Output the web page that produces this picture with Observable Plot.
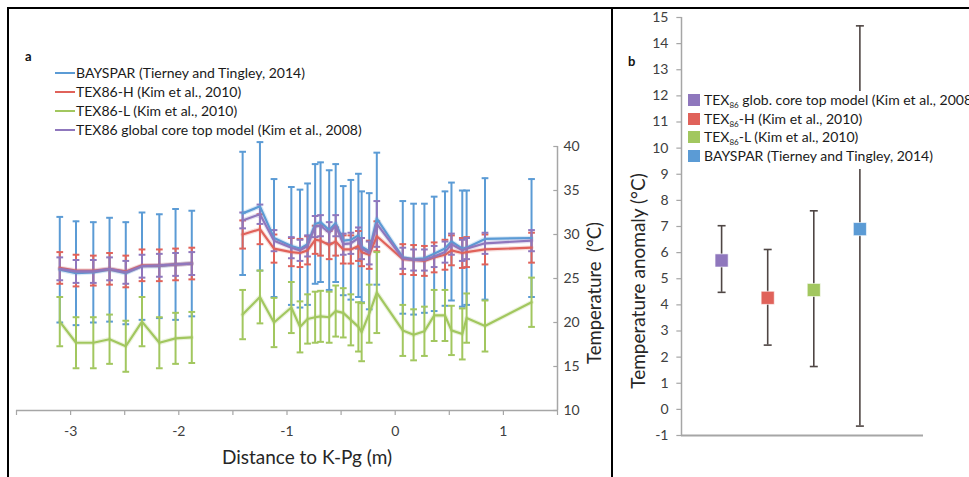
<!DOCTYPE html>
<html>
<head>
<meta charset="utf-8">
<script src="https://cdn.jsdelivr.net/npm/d3@7"></script>
<script src="https://cdn.jsdelivr.net/npm/@observablehq/plot@0.6"></script>
<style>
  html, body { margin: 0; padding: 0; background: #fff; }
  #wrap { position: relative; width: 969px; height: 477px; overflow: hidden; background: #fff; font-family: Lato, "Open Sans", sans-serif; color: #1a1a1a; }
  .abs { position: absolute; white-space: nowrap; }
  .leg { font-size: 14px; line-height: 19px; }
  .sw { display: inline-block; width: 20px; height: 2px; vertical-align: middle; margin-right: 1px; position: relative; top: -1px; }
  .sq { display: inline-block; width: 12px; height: 12px; vertical-align: middle; margin-right: 4px; position: relative; top: -1px; }
  sub { font-size: 8px; vertical-align: -3px; line-height: 0; }
</style>
</head>
<body>
<div id="wrap">
  <div id="pa" class="abs" style="left:0;top:0"></div>
  <div id="pb" class="abs" style="left:612px;top:0"></div>
</div>
<script>
// ---------- Panel a data ----------
const distance = [-3.10, -2.95, -2.79, -2.64, -2.49, -2.34, -2.18, -2.03, -1.88,
  -1.41, -1.25, -1.12, -0.96, -0.88, -0.81, -0.74, -0.69, -0.61, -0.55, -0.48, -0.41, -0.34, -0.31, -0.24, -0.17,
  0.07, 0.17, 0.27, 0.36, 0.46, 0.52, 0.62, 0.66, 0.83, 1.26];
const segment = ["lower","lower","lower","lower","lower","lower","lower","lower","lower",
  "upper","upper","upper","upper","upper","upper","upper","upper","upper","upper","upper","upper","upper","upper","upper","upper",
  "upper","upper","upper","upper","upper","upper","upper","upper","upper","upper"];
const bayspar = [26.0, 25.6, 25.7, 26.0, 25.6, 26.4, 26.4, 26.6, 26.7,
  32.4, 33.2, 29.6, 28.7, 28.4, 28.9, 31.2, 31.4, 30.5, 31.3, 29.3, 29.4, 29.9, 28.6, 28.1, 31.8,
  27.4, 27.2, 27.3, 27.8, 28.4, 29.2, 28.4, 28.5, 29.5, 29.6];
const baysparErr = [6.0, 5.9, 5.7, 5.9, 5.8, 6.1, 5.9, 6.3, 6.0,
  7.0, 7.3, 6.7, 6.7, 6.7, 6.9, 6.8, 6.8, 6.8, 6.7, 6.2, 6.8, 7.0, 6.3, 6.6, 7.5,
  6.4, 6.3, 6.2, 6.5, 6.5, 6.7, 6.6, 6.5, 6.9, 6.7];
const tex86H = [26.2, 25.9, 25.9, 26.1, 25.8, 26.5, 26.5, 26.6, 26.7,
  30.0, 30.6, 28.4, 28.0, 27.9, 28.2, 29.4, 29.3, 28.8, 29.2, 28.3, 28.3, 28.7, 28.0, 27.7, 29.8,
  27.2, 27.1, 27.0, 27.4, 27.7, 28.2, 27.9, 28.0, 28.3, 28.5];
const tex86HErr = [1.8, 1.8, 1.7, 1.8, 1.8, 1.8, 1.8, 1.8, 1.8,
  1.6, 1.7, 1.6, 1.6, 1.6, 1.6, 1.6, 1.7, 1.6, 1.6, 1.6, 1.6, 1.7, 1.6, 1.6, 1.7,
  1.7, 1.7, 1.7, 1.7, 1.7, 1.7, 1.7, 1.7, 1.7, 1.7];
const tex86L = [20.1, 17.7, 17.7, 18.1, 17.3, 20.1, 17.7, 18.2, 18.3,
  20.9, 22.9, 20.0, 21.7, 19.5, 20.4, 20.6, 20.7, 20.6, 21.3, 21.1, 20.3, 19.5, 18.9, 21.0, 23.4,
  19.1, 18.6, 19.0, 20.8, 20.8, 19.1, 18.7, 20.5, 19.6, 22.3];
const tex86LErr = [2.8, 2.9, 2.9, 2.8, 2.9, 2.8, 2.9, 2.9, 2.9,
  2.8, 3.0, 2.8, 2.9, 2.9, 2.8, 2.9, 2.9, 2.9, 2.9, 2.8, 2.9, 2.8, 3.3, 3.3, 4.6,
  2.9, 2.9, 2.8, 2.9, 2.9, 2.8, 2.9, 2.8, 2.9, 2.8];
const tex86Glob = [26.1, 25.8, 25.8, 26.1, 25.7, 26.4, 26.5, 26.6, 26.7,
  31.6, 32.3, 29.3, 28.5, 28.2, 28.7, 30.9, 31.0, 30.2, 31.0, 28.9, 29.0, 29.6, 28.4, 27.9, 31.2,
  27.3, 27.1, 27.1, 27.5, 28.0, 28.9, 28.2, 28.4, 29.0, 29.3];
const tex86GlobErr = [1.3, 1.3, 1.3, 1.3, 1.3, 1.3, 1.3, 1.3, 1.3,
  0.9, 1.1, 1.2, 1.2, 1.2, 1.2, 1.2, 1.2, 1.2, 1.2, 1.2, 1.2, 1.2, 1.2, 1.3, 2.6,
  1.2, 1.2, 1.2, 1.2, 1.2, 1.2, 1.2, 1.2, 1.2, 1.2];
const seriesNamesA = ["BAYSPAR (Tierney and Tingley, 2014)", "TEX86-H (Kim et al., 2010)", "TEX86-L (Kim et al., 2010)", "TEX86 global core top model (Kim et al., 2008)"];
const xTickValues = [-3.5, -3, -2.5, -2, -1.5, -1, -0.5, 0, 0.5, 1, 1.5];
const yTickValuesA = [10, 15, 20, 25, 30, 35, 40];

// ---------- Panel b data ----------
const modelsB = ["TEX86 glob. core top model (Kim et al., 2008)", "TEX86-H (Kim et al., 2010)", "TEX86-L (Kim et al., 2010)", "BAYSPAR (Tierney and Tingley, 2014)"];
const modelSlot = [1, 2, 3, 4];
const anomaly = [5.7, 4.27, 4.57, 6.9];
const anomalyLow = [4.48, 2.46, 1.64, -0.64];
const anomalyHigh = [7.03, 6.12, 7.6, 14.68];
const yTickValuesB = [-1, 0, 1, 2, 3, 4, 5, 6, 7, 8, 9, 10, 11, 12, 13, 14, 15];

// ---------- colours ----------
const cBlue = "#5b9bd5", cRed = "#e0625a", cGreen = "#a2c75f", cPurple = "#8f77bd";
const axisGray = "#a6a6a6";

// horizontal bar symbol for error-bar caps and tick marks
const hbar = { draw(ctx, size) { const w = Math.sqrt(size) / 2; ctx.moveTo(-w, 0); ctx.lineTo(w, 0); } };

function rows(vals, errs) {
  return distance.map((d, i) => ({ x: d, seg: segment[i], v: vals[i], e: errs[i] }));
}
function seriesMarks(data, color) {
  return [
    Plot.ruleX(data, { x: "x", y1: d => d.v - d.e, y2: d => d.v + d.e, stroke: color, strokeWidth: 2 }),
    Plot.dot(data, { x: "x", y: d => d.v + d.e, symbol: hbar, r: 3.8, fill: "none", stroke: color, strokeWidth: 2 }),
    Plot.dot(data, { x: "x", y: d => d.v - d.e, symbol: hbar, r: 3.8, fill: "none", stroke: color, strokeWidth: 2 })
  ];
}
function lineMarks(data, color) {
  return [
    Plot.line(data, { x: "x", y: "v", z: "seg", stroke: color, strokeWidth: 4.5, strokeOpacity: 0.22 }),
    Plot.line(data, { x: "x", y: "v", z: "seg", stroke: color, strokeWidth: 2.2 })
  ];
}

const dB = rows(bayspar, baysparErr);
const dH = rows(tex86H, tex86HErr);
const dL = rows(tex86L, tex86LErr);
const dG = rows(tex86Glob, tex86GlobErr);

const plotA = Plot.plot({
  width: 612, height: 477,
  marginLeft: 16, marginRight: 55, marginTop: 146, marginBottom: 67,
  x: { domain: [-3.5, 1.5] },
  y: { domain: [10, 40] },
  style: { fontFamily: "Lato, sans-serif", fontSize: "14px", color: "#404040", background: "transparent", overflow: "visible" },
  marks: [
    Plot.axisX({ ticks: xTickValues, tickFormat: d => Number.isInteger(d) ? String(d) : "", tickSize: 5, tickPadding: 11, stroke: axisGray, strokeWidth: 1.2, label: null, fontSize: 14 }),
    Plot.axisY({ anchor: "right", ticks: yTickValuesA, tickSize: 0, tickPadding: 6, label: null, fontSize: 14 }),
    Plot.dot(yTickValuesA, { x: 1.5, y: d => d, symbol: hbar, r: 2.5, dx: -2, fill: "none", stroke: axisGray, strokeWidth: 1.2 }),
    Plot.ruleY([10], { stroke: axisGray, strokeWidth: 1.5 }),
    Plot.ruleX([1.5], { stroke: axisGray, strokeWidth: 1.5 }),
    ...seriesMarks(dB, cBlue),
    ...seriesMarks(dH, cRed),
    ...seriesMarks(dL, cGreen),
    ...seriesMarks(dG, cPurple),
    ...lineMarks(dB, cBlue),
    ...lineMarks(dH, cRed),
    ...lineMarks(dL, cGreen),
    ...lineMarks(dG, cPurple)
  ]
});
document.getElementById("pa").appendChild(plotA);

const dataB = modelsB.map((m, i) => ({ slot: modelSlot[i], v: anomaly[i], lo: anomalyLow[i], hi: anomalyHigh[i], c: [cPurple, cRed, cGreen, cBlue][i] }));
const barColor = "#4f4644";
const plotB = Plot.plot({
  width: 357, height: 477,
  marginLeft: 69, marginRight: 46, marginTop: 17, marginBottom: 42,
  x: { domain: [0.13, 5.38], axis: null },
  y: { domain: [-1, 15], axis: null },
  style: { fontFamily: "Lato, sans-serif", fontSize: "14px", color: "#404040", background: "transparent", overflow: "visible" },
  marks: [
    Plot.axisY({ ticks: yTickValuesB, tickFormat: d => String(d), tickSize: 0, tickPadding: 13, label: null, fontSize: 14 }),
    Plot.dot(yTickValuesB, { x: 0.13, y: d => d, symbol: hbar, r: 3, dx: -2.5, fill: "none", stroke: axisGray, strokeWidth: 1.2 }),
    Plot.ruleX([0.13], { stroke: axisGray, strokeWidth: 1.5 }),
    Plot.ruleY([-1], { stroke: axisGray, strokeWidth: 1.8 }),
    Plot.ruleX(dataB, { x: "slot", y1: "lo", y2: "hi", stroke: barColor, strokeWidth: 1.6 }),
    Plot.dot(dataB, { x: "slot", y: "hi", symbol: hbar, r: 4.5, fill: "none", stroke: barColor, strokeWidth: 1.6 }),
    Plot.dot(dataB, { x: "slot", y: "lo", symbol: hbar, r: 4.5, fill: "none", stroke: barColor, strokeWidth: 1.6 }),
    Plot.dot(dataB, { x: "slot", y: "v", symbol: "square", r: 7.4, fill: d => d.c, stroke: "#fff", strokeOpacity: 0.6, strokeWidth: 1 })
  ]
});
document.getElementById("pb").appendChild(plotB);

// ---------- text, legends and frame ----------
const wrap = document.getElementById("wrap");
function add(html, style, cls) {
  const el = document.createElement("div");
  el.className = "abs " + (cls || "");
  el.setAttribute("style", style);
  el.innerHTML = html;
  wrap.appendChild(el);
  return el;
}
// frame lines
add("", "left:7px;top:7px;width:962px;height:2px;background:#000");
add("", "left:7px;top:7px;width:2px;height:470px;background:#000");
add("", "left:611px;top:7px;width:2px;height:470px;background:#000");

// panel a
add("a", "left:25px;top:48px;font-size:13px;font-weight:bold;color:#111");
const colorsA = [cBlue, cRed, cGreen, cPurple];
seriesNamesA.forEach((n, i) => {
  add(`<span class="sw" style="background:${colorsA[i]}"></span>${n}`, `left:55px;top:${63 + i * 19}px`, "leg");
});
add("Distance to K-Pg (m)", "left:307px;top:456px;transform:translate(-50%,-50%);font-size:19px;color:#262626");
add("Temperature&nbsp; (°C)", "left:594px;top:293px;transform:translate(-50%,-50%) rotate(-90deg);font-size:18.5px;color:#262626");

// panel b
add("b", "left:628px;top:53px;font-size:13px;font-weight:bold;color:#111");
add("Temperature anomaly (°C)", "left:637px;top:281px;transform:translate(-50%,-50%) rotate(-90deg);font-size:19px;color:#262626");
const legB = add("", "left:685px;top:91px;width:300px;height:78px;background:#fff;padding-left:3px", "leg");
const legLabelsB = ["TEX<sub>86</sub> glob. core top model (Kim et al., 2008)", "TEX<sub>86</sub>-H (Kim et al., 2010)", "TEX<sub>86</sub>-L (Kim et al., 2010)", "BAYSPAR (Tierney and Tingley, 2014)"];
const colorsB = [cPurple, cRed, cGreen, cBlue];
legLabelsB.forEach((t, i) => {
  const r = document.createElement("div");
  r.style.height = "18.5px";
  r.style.lineHeight = "18.5px";
  r.innerHTML = `<span class="sq" style="background:${colorsB[i]}"></span>${t}`;
  legB.appendChild(r);
});
</script>
</body>
</html>
